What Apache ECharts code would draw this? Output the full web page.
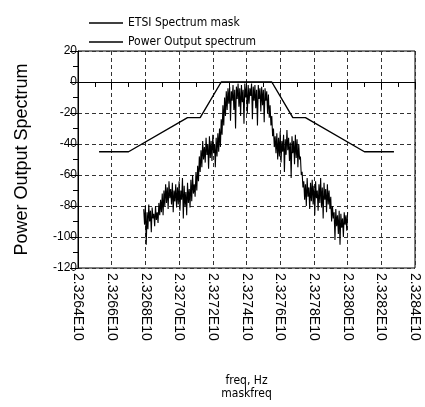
<!DOCTYPE html>
<html>
<head>
<meta charset="utf-8">
<script src="https://cdn.jsdelivr.net/npm/echarts@6/dist/echarts.min.js"></script>
<style>
  html, body { margin: 0; padding: 0; background: #fff; }
  #chart { width: 425px; height: 407px; }
</style>
</head>
<body>
<div id="chart"></div>
<script>
// ETSI mask corners (MHz, dB)
const maskFreqMHz = [23265.25, 23267.0, 23270.5, 23271.25, 23272.5, 23275.5, 23276.75, 23277.5, 23281.0, 23282.75];
const maskDb = [-45, -45, -23, -23, 0, 0, -23, -23, -45, -45];

// measured output spectrum, sampled every 0.05 MHz starting at 23267.9 MHz
const traceStartMHz = 23267.9;
const traceStepMHz = 0.05;
const traceDb = [
  -82, -92, -80, -105, -84, -95, -79, -90, -83, -97, -81, -88, -85, -93, -80, -89, -84, -91, -78, -86,
  -76, -84, -72, -86, -70, -80, -66, -78, -68, -82, -64, -75, -69, -79, -65, -84, -70, -77, -66, -81,
  -68, -79, -64, -83, -70, -76, -62, -88, -67, -80, -71, -86, -65, -78, -69, -81, -63, -77, -60, -72,
  -66, -74, -58, -70, -54, -64, -48, -58, -44, -55, -38, -50, -42, -52, -36, -47, -40, -56, -35, -49,
  -38, -51, -34, -46, -40, -55, -36, -48, -33, -45, -30, -42, -24, -34, -15, -28, -10, -22, -6, -18,
  -4, -14, -3, -25, -6, -12, -2, -18, -5, -30, -3, -11, -1, -16, -4, -22, -2, -13, -5, -27,
  -1, -10, -3, -20, -2, -14, -4, -9, -1, -24, -3, -12, -2, -17, -5, -28, -2, -11, -4, -19,
  -3, -15, -5, -26, -4, -12, -6, -20, -8, -23, -15, -28, -22, -35, -30, -42, -35, -46, -33, -50,
  -36, -48, -32, -52, -38, -45, -34, -58, -37, -47, -31, -44, -36, -51, -39, -62, -35, -46, -38, -53,
  -34, -49, -37, -55, -40, -50, -48, -60, -58, -68, -64, -76, -66, -80, -62, -74, -68, -82, -65, -77,
  -63, -79, -67, -86, -64, -75, -70, -83, -66, -78, -62, -81, -68, -88, -65, -76, -69, -84, -66, -79,
  -70, -82, -74, -90, -80, -88, -84, -102, -82, -93, -86, -98, -83, -105, -85, -94, -88, -100, -84, -92,
  -86, -96, -84
];

const yTicks = { min: -120, max: 20, step: 20 };
const xTicks = { min: 23264, max: 23284, step: 2 };

const narrow = "'Liberation Sans Narrow', 'DejaVu Sans Condensed', 'Liberation Sans', sans-serif";
const sans = "'Liberation Sans', Arial, sans-serif";

const maskData = maskFreqMHz.map((f, i) => [f, maskDb[i]]);
const traceData = traceDb.map((v, i) => [+(traceStartMHz + i * traceStepMHz).toFixed(2), v]);

const chart = echarts.init(document.getElementById('chart'));

const option = {
    animation: false,
    backgroundColor: '#fff',
    textStyle: { fontFamily: sans, color: '#000' },
    legend: {
        orient: 'vertical',
        left: 84,
        top: 12,
        itemWidth: 34,
        itemHeight: 1.5,
        itemGap: 7,
        textStyle: { fontSize: 12, color: '#000', fontFamily: narrow },
        data: [
            { name: 'ETSI Spectrum mask', icon: 'rect' },
            { name: 'Power Output spectrum', icon: 'rect' }
        ]
    },
    grid: {
        left: 78,
        right: 10,
        top: 51,
        bottom: 139,
        show: true,
        borderColor: '#000',
        borderWidth: 1
    },
    xAxis: {
        type: 'value',
        min: xTicks.min,
        max: xTicks.max,
        interval: xTicks.step,
        name: 'freq, Hz\nmaskfreq',
        nameLocation: 'middle',
        nameGap: 106,
        nameTextStyle: { fontSize: 12, color: '#000', fontFamily: narrow, lineHeight: 13 },
        axisLine: { lineStyle: { color: '#000', width: 1 } },
        axisTick: { length: 7, lineStyle: { color: '#000' } },
        minorTick: { show: true, splitNumber: 2, length: 5, lineStyle: { color: '#000' } },
        axisLabel: {
            rotate: -90,
            fontSize: 14,
            color: '#000',
            margin: 5,
            fontFamily: sans,
            formatter: v => (v / 10000).toFixed(4) + 'E10'
        },
        splitLine: { show: true, lineStyle: { color: '#333', type: [4, 3], width: 1 } }
    },
    yAxis: {
        type: 'value',
        min: yTicks.min,
        max: yTicks.max,
        interval: yTicks.step,
        name: 'Power Output Spectrum',
        nameLocation: 'middle',
        nameGap: 47,
        nameTextStyle: { fontSize: 18, color: '#000', fontFamily: sans },
        axisLine: { show: true, lineStyle: { color: '#000', width: 1 } },
        axisTick: { show: true, length: 8, lineStyle: { color: '#000' } },
        minorTick: { show: true, splitNumber: 2, length: 5, lineStyle: { color: '#000' } },
        axisLabel: {
            fontSize: 12,
            color: '#000',
            margin: 1,
            fontFamily: sans
        },
        splitLine: { show: true, lineStyle: { color: '#333', type: [4, 3], width: 1 } }
    },
    series: [
        {
            name: 'ETSI Spectrum mask',
            type: 'line',
            symbol: 'none',
            data: maskData,
            lineStyle: { color: '#000', width: 1.4 },
            itemStyle: { color: '#000' },
            z: 3
        },
        {
            name: 'Power Output spectrum',
            type: 'line',
            symbol: 'none',
            data: traceData,
            lineStyle: { color: '#000', width: 1.1 },
            itemStyle: { color: '#000' },
            z: 2
        }
    ]
};

chart.setOption(option);
</script>
</body>
</html>
